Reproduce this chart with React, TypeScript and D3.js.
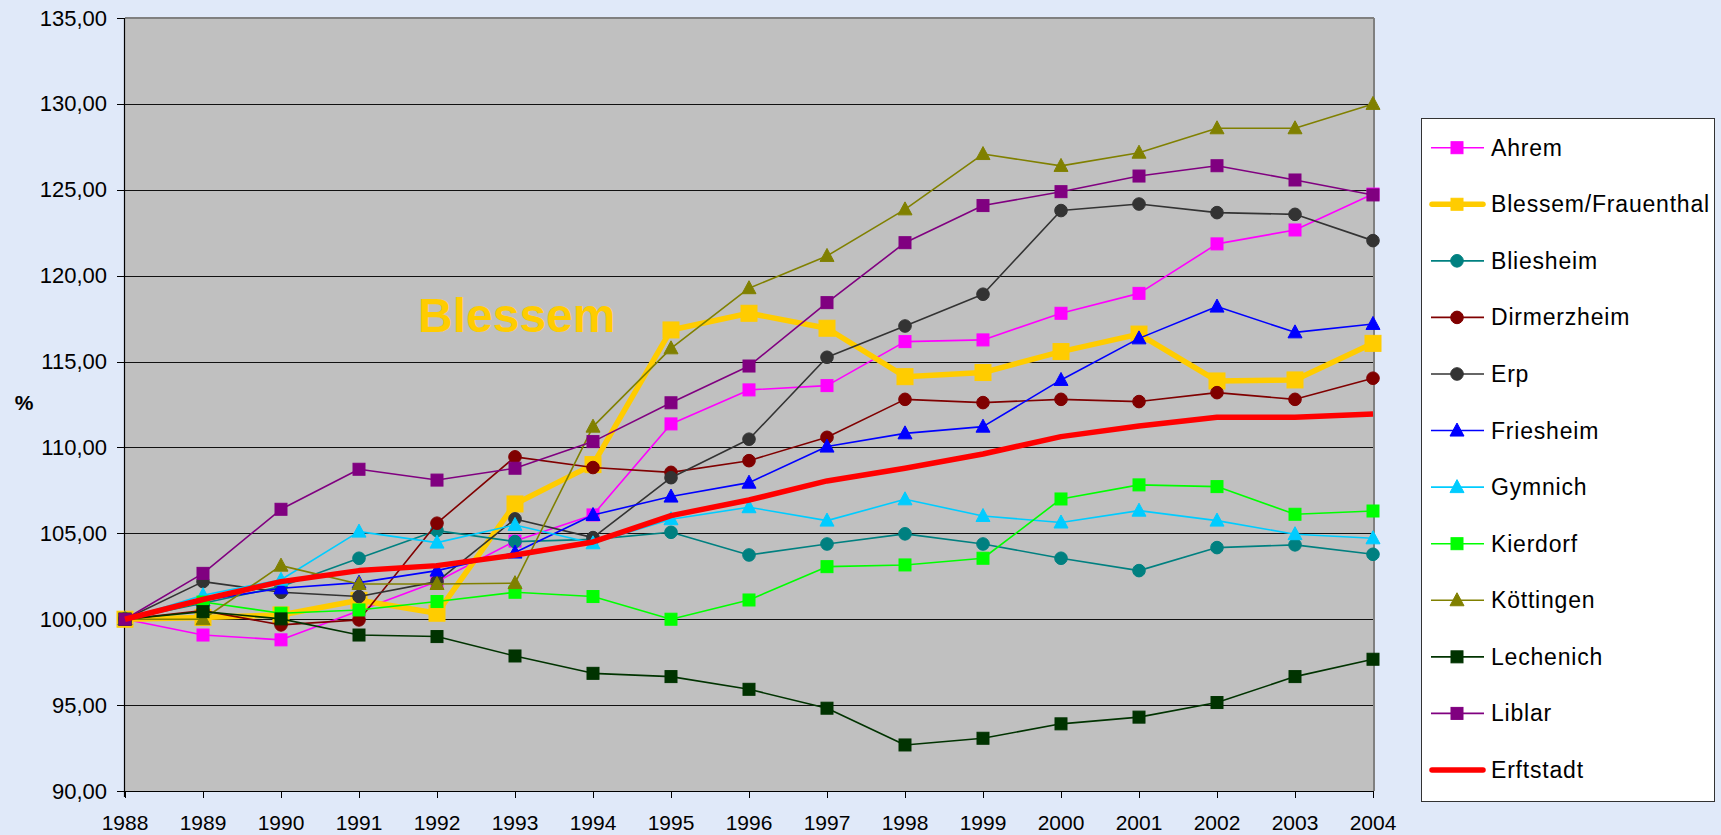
import React from "react";
import * as d3 from "d3";

const years = [1988, 1989, 1990, 1991, 1992, 1993, 1994, 1995, 1996, 1997, 1998, 1999, 2000, 2001, 2002, 2003, 2004];
const yTicks = [90, 95, 100, 105, 110, 115, 120, 125, 130, 135];

const ahrem = [100, 99.08, 98.8, 100.5, 102.2, 104.55, 106.07, 111.37, 113.35, 113.6, 116.16, 116.26, 117.81, 118.97, 121.85, 122.66, 124.75];
const blessem = [100, 100.1, 100.25, 101.1, 100.35, 106.71, 109.0, 116.84, 117.81, 116.94, 114.12, 114.36, 115.58, 116.6, 113.87, 113.93, 116.06];
const bliesheim = [100, 100.93, 101.9, 103.55, 105.16, 104.52, 104.65, 105.06, 103.74, 104.38, 104.97, 104.38, 103.55, 102.83, 104.17, 104.33, 103.78];
const dirmerzheim = [100, 100.5, 99.67, 99.96, 105.59, 109.45, 108.83, 108.55, 109.23, 110.59, 112.8, 112.61, 112.8, 112.67, 113.19, 112.8, 114.03];
const erp = [100, 102.19, 101.57, 101.32, 102.19, 105.84, 104.75, 108.24, 110.48, 115.25, 117.07, 118.92, 123.79, 124.17, 123.67, 123.57, 122.04];
const friesheim = [100, 101.1, 101.8, 102.13, 102.83, 103.88, 106.07, 107.14, 107.95, 110.05, 110.82, 111.21, 113.93, 116.35, 118.2, 116.7, 117.19];
const gymnich = [100, 101.4, 102.3, 105.1, 104.46, 105.49, 104.42, 105.82, 106.52, 105.74, 106.98, 106.01, 105.63, 106.32, 105.74, 104.95, 104.71];
const kierdorf = [100, 101.0, 100.35, 100.54, 101.03, 101.57, 101.32, 100.0, 101.12, 103.06, 103.16, 103.55, 107.0, 107.82, 107.72, 106.11, 106.3];
const koettingen = [100, 100.0, 103.12, 102.05, 102.05, 102.1, 111.21, 115.77, 119.27, 121.15, 123.86, 127.08, 126.39, 127.16, 128.58, 128.58, 130.0];
const lechenich = [100, 100.44, 100.02, 99.08, 98.99, 97.86, 96.85, 96.66, 95.92, 94.82, 92.68, 93.07, 93.91, 94.3, 95.15, 96.66, 97.67];
const liblar = [100, 102.67, 106.4, 108.73, 108.1, 108.79, 110.34, 112.6, 114.74, 118.43, 121.92, 124.08, 124.89, 125.8, 126.4, 125.57, 124.7];
const erftstadt = [100, 101.15, 102.19, 102.83, 103.12, 103.74, 104.5, 106.03, 106.94, 108.05, 108.79, 109.62, 110.63, 111.25, 111.76, 111.76, 111.95];

const seriesNames = ["Ahrem", "Blessem/Frauenthal", "Bliesheim", "Dirmerzheim", "Erp", "Friesheim", "Gymnich", "Kierdorf", "Köttingen", "Lechenich", "Liblar", "Erftstadt"];
const seriesValues = [ahrem, blessem, bliesheim, dirmerzheim, erp, friesheim, gymnich, kierdorf, koettingen, lechenich, liblar, erftstadt];
const seriesColors = ["#FF00FF", "#FFCC00", "#008080", "#800000", "#333333", "#0000FF", "#00CCFF", "#00FF00", "#808000", "#003300", "#800080", "#FF0000"];
const seriesMarkers = ["square", "bigsquare", "circle", "circle", "circle", "triangle", "triangle", "square", "triangle", "square", "square", "none"];

const W = 1721;
const H = 835;
const left = 125;
const right = 1373;
const top = 18;
const bottom = 791;
const plotRight = 1374;

const x = d3.scaleLinear().domain([1988, 2004]).range([left, right]);
const y = d3.scaleLinear().domain([90, 135]).range([bottom, top]);

const fmt = (v: number) => d3.format(".2f")(v).replace(".", ",");
const FONT = "'Liberation Sans', Arial, Helvetica, sans-serif";

function Marker({ type, cx, cy, color }: { type: string; cx: number; cy: number; color: string }) {
  if (type === "square") {
    return <rect x={cx - 6} y={cy - 6} width={12} height={12} fill={color} stroke={color} strokeWidth={1} />;
  }
  if (type === "bigsquare") {
    return <rect x={cx - 8} y={cy - 8} width={16} height={16} fill={color} stroke={color} strokeWidth={1} />;
  }
  if (type === "circle") {
    return <circle cx={cx} cy={cy} r={6.3} fill={color} stroke={color} strokeWidth={1} />;
  }
  if (type === "triangle") {
    return (
      <polygon
        points={`${cx},${cy - 7.5} ${cx + 7},${cy + 5.5} ${cx - 7},${cy + 5.5}`}
        fill={color}
        stroke={color}
        strokeWidth={1}
      />
    );
  }
  return null;
}

export default function App() {
  const line = d3
    .line<number>()
    .x((_, i) => x(years[i]))
    .y((d) => y(d));

  const legendLeft = 1421;
  const legendTop = 118;
  const legendRight = 1714;
  const legendBottom = 801;
  const legendY0 = 147.7;
  const legendStep = 56.57;

  return (
    <svg
      width={W}
      height={H}
      viewBox={`0 0 ${W} ${H}`}
      style={{ position: "absolute", left: 0, top: 0, display: "block" }}
    >
      <rect x={0} y={0} width={W} height={H} fill="#E0E9F9" />
      {/* plot area */}
      <rect x={left} y={top} width={plotRight - left} height={bottom - top} fill="#C0C0C0" />
      {/* gridlines */}
      {yTicks
        .filter((t) => t !== 90 && t !== 135)
        .map((t) => (
          <line
            key={"g" + t}
            x1={left}
            x2={plotRight}
            y1={Math.round(y(t)) + 0.5}
            y2={Math.round(y(t)) + 0.5}
            stroke="#111"
            strokeWidth={1}
          />
        ))}
      {/* border top and right */}
      <line x1={left} x2={plotRight} y1={top} y2={top} stroke="#808080" strokeWidth={2} />
      <line x1={plotRight} x2={plotRight} y1={top} y2={bottom} stroke="#808080" strokeWidth={2} />
      {/* axes */}
      <line x1={left - 0.5} x2={left - 0.5} y1={top} y2={bottom + 6} stroke="#000" strokeWidth={1.2} />
      <line x1={left - 8} x2={plotRight} y1={bottom + 0.5} y2={bottom + 0.5} stroke="#000" strokeWidth={1.2} />
      {yTicks.map((t) => (
        <g key={"yt" + t}>
          <line x1={left - 8} x2={left} y1={Math.round(y(t)) + 0.5} y2={Math.round(y(t)) + 0.5} stroke="#000" strokeWidth={1} />
          <text
            x={107}
            y={y(t)}
            textAnchor="end"
            dominantBaseline="central"
            fontFamily={FONT}
            fontSize={22}
            fill="#000"
          >
            {fmt(t)}
          </text>
        </g>
      ))}
      {years.map((yr) => (
        <g key={"xt" + yr}>
          <line x1={Math.round(x(yr)) + 0.5} x2={Math.round(x(yr)) + 0.5} y1={bottom} y2={bottom + 7} stroke="#000" strokeWidth={1} />
          <text x={x(yr)} y={830} textAnchor="middle" fontFamily={FONT} fontSize={21} fill="#000">
            {yr}
          </text>
        </g>
      ))}
      <text x={24} y={410} textAnchor="middle" fontFamily={FONT} fontSize={21} fontWeight="bold" fill="#000">
        %
      </text>
      <text x={418} y={332} fontFamily={FONT} fontSize={48} fontWeight="bold" fill="#FFCC00">
        Blessem
      </text>
      {/* series */}
      {seriesValues.map((vals, si) => {
        const thick = si === 1 || si === 11;
        return (
          <g key={"s" + si}>
            <path
              d={line(vals) || ""}
              fill="none"
              stroke={seriesColors[si]}
              strokeWidth={thick ? 5.5 : 1.6}
              strokeLinejoin="round"
            />
            {vals.map((v, i) => (
              <Marker key={i} type={seriesMarkers[si]} cx={x(years[i])} cy={y(v)} color={seriesColors[si]} />
            ))}
          </g>
        );
      })}
      {/* legend */}
      <rect
        x={legendLeft + 0.5}
        y={legendTop + 0.5}
        width={legendRight - legendLeft}
        height={legendBottom - legendTop}
        fill="#FFFFFF"
        stroke="#333"
        strokeWidth={1}
      />
      {seriesNames.map((name, si) => {
        const ly = legendY0 + si * legendStep;
        const thick = si === 1 || si === 11;
        return (
          <g key={"l" + si}>
            <line
              x1={thick ? 1432 : 1431}
              x2={thick ? 1483 : 1484}
              y1={ly}
              y2={ly}
              stroke={seriesColors[si]}
              strokeWidth={thick ? 5.5 : 1.6}
              strokeLinecap={thick ? "round" : "butt"}
            />
            <Marker
              type={seriesMarkers[si] === "bigsquare" ? "square" : seriesMarkers[si]}
              cx={1457}
              cy={ly}
              color={seriesColors[si]}
            />
            <text
              x={1491}
              y={ly}
              dominantBaseline="central"
              fontFamily={FONT}
              fontSize={23}
              letterSpacing={0.8}
              fill="#000"
            >
              {name}
            </text>
          </g>
        );
      })}
    </svg>
  );
}
